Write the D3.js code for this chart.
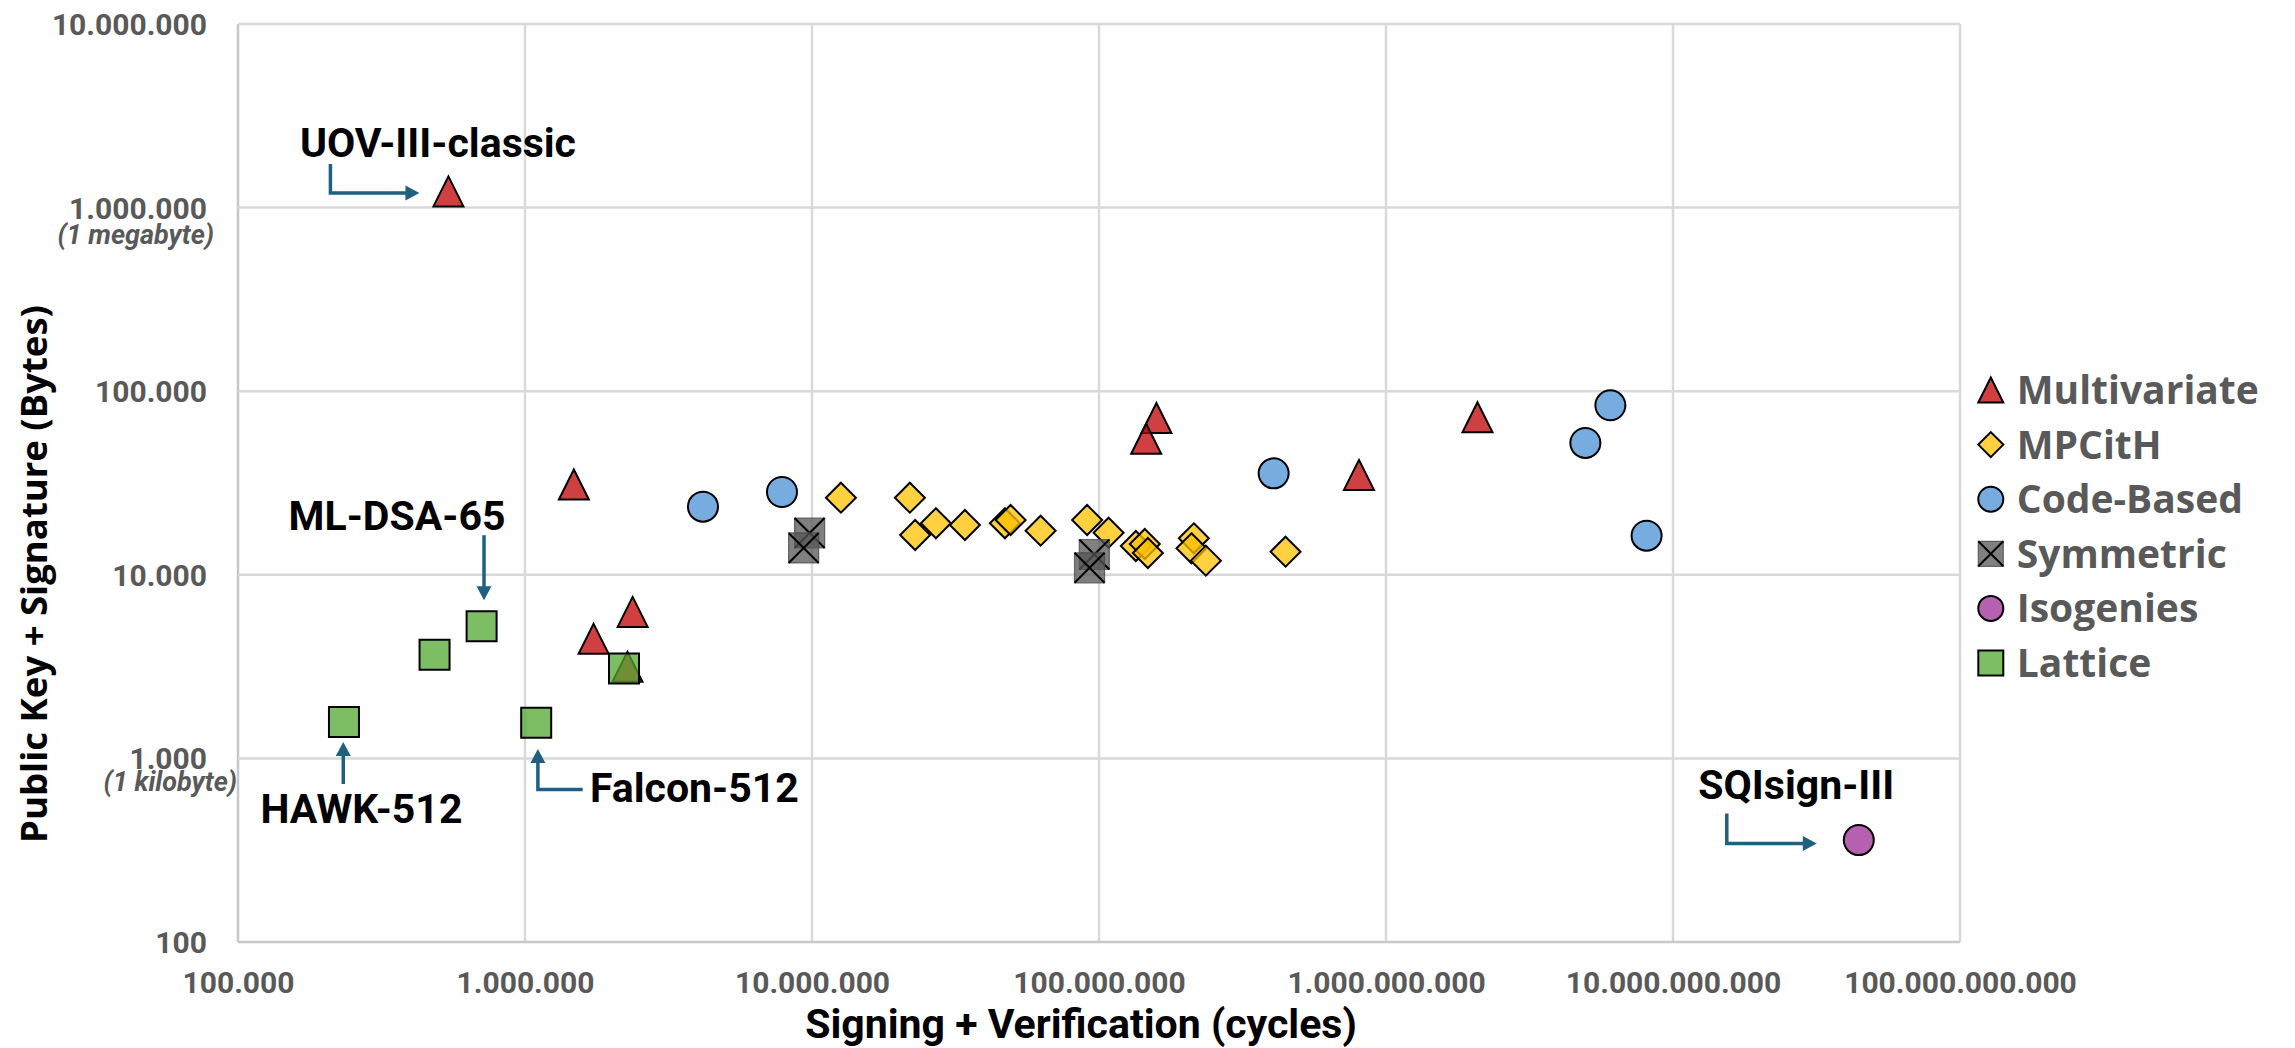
<!DOCTYPE html>
<html><head><meta charset="utf-8">
<script src="https://cdn.jsdelivr.net/npm/d3@7"></script>
<style>html,body{margin:0;padding:0;background:#fff}</style>
</head><body>
<svg id="chart" width="2295" height="1048"></svg>
<script>
// ---------------- DATA ----------------
const categories = ["Multivariate", "MPCitH", "Code-Based", "Symmetric", "Isogenies", "Lattice"];

const multivariateCycles = [541000, 1480000, 1734000, 2372000, 2275000, 158500000, 146000000, 805000000, 2083000000];
const multivariateBytes  = [1225640, 31050, 4478, 6280, 3155, 71400, 55050, 35000, 72100];

const mpcithCycles = [12610000, 21930000, 22880000, 27020000, 34100000, 47000000, 49200000, 62600000, 90900000,
                      108000000, 134400000, 144400000, 148000000, 214000000, 210000000, 235700000, 446700000];
const mpcithBytes  = [26300, 26300, 16480, 19080, 18670, 19080, 19890, 17390, 19890,
                      16960, 14350, 14720, 13140, 15800, 13940, 11940, 13360];

const codeBasedCycles = [4170000, 7860000, 406000000, 6050000000, 4950000000, 8090000000];
const codeBasedBytes  = [23500, 28250, 35700, 83800, 52250, 16330];

const symmetricCycles = [9810000, 9350000, 96300000, 92700000];
const symmetricBytes  = [16890, 14000, 12900, 10920];

const isogenyCycles = [44400000000];
const isogenyBytes  = [359];

const latticeCycles = [234000, 484000, 706000, 1094000, 2213000];
const latticeBytes  = [1578, 3664, 5248, 1563, 3090];

const xTickValues = [1e5, 1e6, 1e7, 1e8, 1e9, 1e10, 1e11];
const yTickValues = [1e2, 1e3, 1e4, 1e5, 1e6, 1e7];
const yNoteValues = [1000, 1000000];
const yNoteLabels = ["(1 kilobyte)", "(1 megabyte)"];

const annotationLabels  = ["UOV-III-classic", "ML-DSA-65", "HAWK-512", "Falcon-512", "SQIsign-III"];
const annotationSeries  = ["Multivariate", "Lattice", "Lattice", "Lattice", "Isogenies"];
const annotationIndex   = [0, 2, 0, 3, 0];

const xTitle = "Signing + Verification (cycles)";
const yTitle = "Public Key + Signature (Bytes)";

// ---------------- LAYOUT / STYLE ----------------
const svg = d3.select("#chart");
const plot = {left: 238, right: 1960, top: 24, bottom: 942};

const x = d3.scaleLog().domain([1e5, 1e11]).range([plot.left, plot.right]);
const y = d3.scaleLog().domain([1e2, 1e7]).range([plot.bottom, plot.top]);

const locale = d3.formatLocale({decimal: ",", thousands: ".", grouping: [3], currency: ["", ""]});
const fmt = locale.format(",d");

const seriesData = {
  "Multivariate": d3.zip(multivariateCycles, multivariateBytes),
  "MPCitH": d3.zip(mpcithCycles, mpcithBytes),
  "Code-Based": d3.zip(codeBasedCycles, codeBasedBytes),
  "Symmetric": d3.zip(symmetricCycles, symmetricBytes),
  "Isogenies": d3.zip(isogenyCycles, isogenyBytes),
  "Lattice": d3.zip(latticeCycles, latticeBytes)
};

const styles = {
  "Multivariate": {shape: "triangle", fill: "#C00000"},
  "MPCitH":       {shape: "diamond",  fill: "#FFC000"},
  "Code-Based":   {shape: "circle",   fill: "#4A90D6"},
  "Symmetric":    {shape: "xsquare",  fill: "#555555"},
  "Isogenies":    {shape: "circle",   fill: "#9E2C94"},
  "Lattice":      {shape: "square",   fill: "#52A832"}
};

function shapePath(shape, h) {
  switch (shape) {
    case "triangle": return `M0,${-h}L${h},${h}L${-h},${h}Z`;
    case "diamond":  return `M0,${-h}L${h},0L0,${h}L${-h},0Z`;
    case "circle":   return `M${h},0A${h},${h} 0 1 1 ${-h},0A${h},${h} 0 1 1 ${h},0Z`;
    default:         return `M${-h},${-h}H${h}V${h}H${-h}Z`;
  }
}

function drawMarker(g, cat, h) {
  const st = styles[cat];
  if (st.shape === "xsquare") {
    g.append("path").attr("d", shapePath("square", h))
      .attr("fill", st.fill).attr("fill-opacity", 0.75)
      .attr("stroke", "#4a4a4a").attr("stroke-opacity", 0.8).attr("stroke-width", 1.2);
    g.append("path").attr("d", `M${-h},${-h}L${h},${h}M${h},${-h}L${-h},${h}`)
      .attr("fill", "none").attr("stroke", "#000").attr("stroke-width", 2);
  } else {
    g.append("path").attr("d", shapePath(st.shape, h))
      .attr("fill", st.fill).attr("fill-opacity", 0.75)
      .attr("stroke", "#000").attr("stroke-width", 2).attr("stroke-linejoin", "miter");
  }
}

// background
svg.append("rect").attr("width", 2295).attr("height", 1048).attr("fill", "#fff");

// gridlines
const grid = svg.append("g");
grid.selectAll("line.gx").data(xTickValues).join("line")
  .attr("x1", d => x(d)).attr("x2", d => x(d))
  .attr("y1", plot.top).attr("y2", plot.bottom)
  .attr("stroke", d => d === 1e5 ? "#c8c8c8" : "#d9d9d9").attr("stroke-width", 2.5);
grid.selectAll("line.gy").data(yTickValues).join("line")
  .attr("x1", plot.left).attr("x2", plot.right)
  .attr("y1", d => y(d)).attr("y2", d => y(d))
  .attr("stroke", d => d === 1e2 ? "#c8c8c8" : "#d9d9d9").attr("stroke-width", 2.5);

// axes tick labels (via d3 axes, lines hidden)
const tickFont = "Roboto, 'Noto Sans', sans-serif";
const xAxis = svg.append("g").attr("transform", `translate(0,${plot.bottom})`)
  .call(d3.axisBottom(x).tickValues(xTickValues).tickFormat(fmt).tickSize(0).tickPadding(0));
xAxis.select(".domain").remove();
xAxis.selectAll("text").attr("y", 51).attr("dy", null)
  .attr("font-family", tickFont).attr("font-weight", "bold").attr("font-size", 30).attr("fill", "#595959");

const yAxis = svg.append("g").attr("transform", `translate(207,0)`)
  .call(d3.axisLeft(y).tickValues(yTickValues).tickFormat(fmt).tickSize(0).tickPadding(0));
yAxis.select(".domain").remove();
yAxis.selectAll("text").attr("x", 0).attr("dy", null).attr("y", 10.5)
  .attr("font-family", tickFont).attr("font-weight", "bold").attr("font-size", 30).attr("fill", "#595959");

// unit notes under the y tick labels
const noteRight = [237, 214];
const noteDy = [33, 36];
svg.append("g").selectAll("text").data(yNoteValues).join("text")
  .attr("x", (d, i) => noteRight[i]).attr("y", (d, i) => y(d) + noteDy[i])
  .attr("text-anchor", "end")
  .attr("font-family", tickFont).attr("font-style", "italic").attr("font-weight", "bold")
  .attr("font-size", 27).attr("fill", "#595959")
  .text((d, i) => yNoteLabels[i]);

// axis titles
svg.append("text").attr("x", 1081).attr("y", 1038).attr("text-anchor", "middle")
  .attr("font-family", tickFont).attr("font-weight", "bold").attr("font-size", 41).attr("fill", "#000")
  .text(xTitle);
svg.append("text").attr("transform", "translate(47,574) rotate(-90)").attr("text-anchor", "middle")
  .attr("font-family", "'Open Sans', sans-serif").attr("font-weight", "bold").attr("font-size", 36.5).attr("fill", "#000")
  .text(yTitle);

// data markers
const markers = svg.append("g");
categories.forEach(cat => {
  seriesData[cat].forEach(([cx, by]) => {
    const g = markers.append("g").attr("transform", `translate(${x(cx)},${y(by)})`);
    drawMarker(g, cat, 15);
  });
});

// annotations
const arrowColor = "#1F5F80";
const annLayout = [
  {path: [[-118, -27.5], [-118, 1.5], [-29, 1.5]], tx: -148.5, ty: -34.5, anchor: "start"},
  {path: [[2.4, -91], [2.4, -26]], tx: -84.6, ty: -96.5, anchor: "middle"},
  {path: [[-0.7, 62], [-0.7, 20]], tx: 17.5, ty: 101.4, anchor: "middle"},
  {path: [[46.5, 66.8], [1.7, 66.8], [1.7, 26.3]], tx: 53.8, ty: 79.7, anchor: "start"},
  {path: [[-132, -26.7], [-132, 3.3], [-42, 3.3]], tx: -62.5, ty: -41, anchor: "middle"}
];
const ann = svg.append("g");
annotationLabels.forEach((label, i) => {
  const pt = seriesData[annotationSeries[i]][annotationIndex[i]];
  const px = x(pt[0]), py = y(pt[1]);
  const L = annLayout[i];
  const pts = L.path.map(([dx, dy]) => [px + dx, py + dy]);
  const tip = pts[pts.length - 1], prev = pts[pts.length - 2];
  const vx = tip[0] - prev[0], vy = tip[1] - prev[1];
  const len = Math.hypot(vx, vy), ux = vx / len, uy = vy / len;
  const headLen = 14, headHalf = 7.5;
  const lineEnd = [tip[0] - ux * (headLen - 1), tip[1] - uy * (headLen - 1)];
  const linePts = pts.slice(0, -1).concat([lineEnd]);
  ann.append("path").attr("d", d3.line()(linePts))
    .attr("fill", "none").attr("stroke", arrowColor).attr("stroke-width", 3.5);
  const bx = tip[0] - ux * headLen, by = tip[1] - uy * headLen;
  ann.append("path")
    .attr("d", d3.line()([[tip[0], tip[1]], [bx - uy * headHalf, by + ux * headHalf], [bx + uy * headHalf, by - ux * headHalf]]) + "Z")
    .attr("fill", arrowColor);
  ann.append("text").attr("x", px + L.tx).attr("y", py + L.ty).attr("text-anchor", L.anchor)
    .attr("font-family", tickFont).attr("font-weight", "bold").attr("font-size", 41).attr("fill", "#000")
    .text(label);
});

// legend
const legend = svg.append("g").attr("transform", "translate(1990.8,390)");
categories.forEach((cat, i) => {
  const row = legend.append("g").attr("transform", `translate(0,${i * 54.6})`);
  drawMarker(row, cat, 12.5);
  row.append("text").attr("x", 26).attr("y", 14)
    .attr("font-family", "'Open Sans', sans-serif").attr("font-weight", "bold").attr("font-size", 39)
    .attr("fill", "#595959").text(cat);
});
</script>
</body></html>
